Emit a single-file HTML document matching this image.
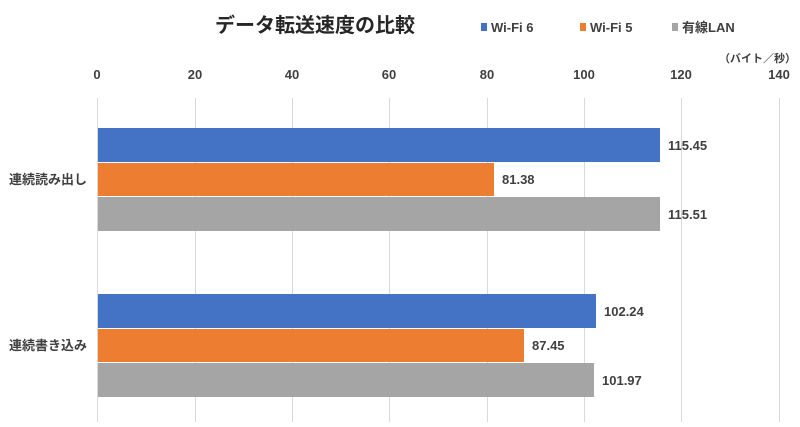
<!DOCTYPE html>
<html><head><meta charset="utf-8"><style>
body{margin:0;width:800px;height:422px;background:#fff;overflow:hidden;font-family:"Liberation Sans","Noto Sans CJK JP",sans-serif;}
svg text{font-family:"Liberation Sans Narrow","Liberation Sans","Noto Sans CJK JP",sans-serif;font-weight:bold;fill:#404040;}
</style></head><body>
<svg width="800" height="422" xmlns="http://www.w3.org/2000/svg">
<g stroke="#d9d9d9" stroke-width="1">
<line x1="97.5" y1="98" x2="97.5" y2="422"/><line x1="195.5" y1="98" x2="195.5" y2="422"/>
<line x1="292.5" y1="98" x2="292.5" y2="422"/><line x1="389.5" y1="98" x2="389.5" y2="422"/>
<line x1="487.5" y1="98" x2="487.5" y2="422"/><line x1="584.5" y1="98" x2="584.5" y2="422"/>
<line x1="681.5" y1="98" x2="681.5" y2="422"/><line x1="779.5" y1="98" x2="779.5" y2="422"/>
</g>
<text x="315" y="32" font-size="20" text-anchor="middle" fill="#262626" style="fill:#262626">データ転送速度の比較</text>
<rect x="481" y="23" width="6" height="8" fill="#4472c4"/><text x="491" y="32" font-size="13">Wi-Fi 6</text>
<rect x="580" y="23" width="6" height="8" fill="#ed7d31"/><text x="590" y="32" font-size="13">Wi-Fi 5</text>
<rect x="672" y="23" width="6" height="8" fill="#a5a5a5"/><text x="682" y="32" font-size="13">有線LAN</text>
<text x="796" y="62" font-size="11" text-anchor="end">（バイト／秒）</text>
<g font-size="13" text-anchor="middle">
<text x="97" y="79">0</text><text x="195" y="79">20</text><text x="292" y="79">40</text><text x="389" y="79">60</text>
<text x="487" y="79">80</text><text x="584" y="79">100</text><text x="681" y="79">120</text><text x="779" y="79">140</text>
</g>
<rect x="98" y="128" width="562" height="34" fill="#4472c4"/>
<rect x="98" y="163" width="396" height="33" fill="#ed7d31"/>
<rect x="98" y="197" width="562" height="34" fill="#a5a5a5"/>
<rect x="98" y="294" width="498" height="34" fill="#4472c4"/>
<rect x="98" y="329" width="426" height="33" fill="#ed7d31"/>
<rect x="98" y="363" width="496" height="34" fill="#a5a5a5"/>
<g font-size="13">
<text x="668" y="150">115.45</text><text x="502" y="184">81.38</text><text x="668" y="219">115.51</text>
<text x="604" y="316">102.24</text><text x="532" y="350">87.45</text><text x="602" y="385">101.97</text>
</g>
<g font-size="13" text-anchor="end">
<text x="87" y="184">連続読み出し</text><text x="87" y="350">連続書き込み</text>
</g>
</svg>
</body></html>
